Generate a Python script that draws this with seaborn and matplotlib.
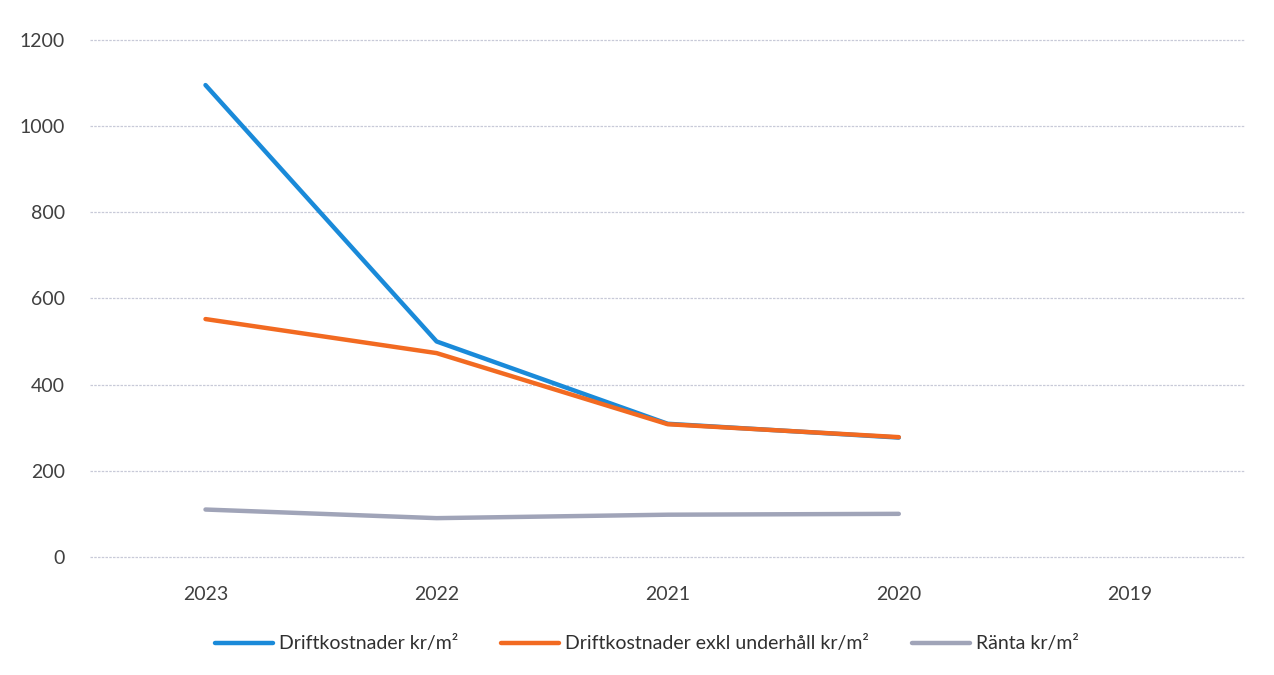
import matplotlib.pyplot as plt
import seaborn as sns
import pandas as pd
import numpy as np

years = ["2023", "2022", "2021", "2020", "2019"]
drift = [1095, 500, 309, 277, np.nan]
drift_exkl = [552, 473, 308, 278, np.nan]
ranta = [110, 90, 98, 100, np.nan]

series_names = [
    "Driftkostnader kr/m²",
    "Driftkostnader exkl underhåll kr/m²",
    "Ränta kr/m²",
]
colors = ["#1a8ad9", "#f26a21", "#a0a4b8"]

rows = []
for name, vals in zip(series_names, [drift, drift_exkl, ranta]):
    for i, v in enumerate(vals):
        rows.append({"pos": i, "value": v, "serie": name})
df = pd.DataFrame(rows).dropna()

sns.set_style("white")
plt.rcParams["font.family"] = ["Lato", "DejaVu Sans"]

fig = plt.figure(figsize=(12.74, 6.75), dpi=100)
ax = fig.add_axes([0.0706, 0.173, 0.907, 0.768])

sns.lineplot(
    data=df, x="pos", y="value", hue="serie", hue_order=series_names,
    palette=colors, linewidth=3.2, sort=False, ax=ax,
)

ax.set_xlim(-0.5, len(years) - 0.5)
ax.set_ylim(-3, 1200)
ax.set_yticks(range(0, 1201, 200))
ax.set_xticks(range(len(years)))
ax.set_xticklabels(years)
ax.set_xlabel("")
ax.set_ylabel("")
ax.grid(axis="y", color="#c8cad8", linestyle=(0, (2, 1)), linewidth=0.9)
for gl in ax.get_ygridlines():
    gl.set_clip_on(False)
ax.set_axisbelow(True)
for s in ax.spines.values():
    s.set_visible(False)
ax.tick_params(axis="both", length=0, labelsize=14, colors="#404040")
ax.tick_params(axis="y", pad=18)
ax.tick_params(axis="x", pad=20)

handles, labels = ax.get_legend_handles_labels()
ax.legend(
    handles, labels, loc="upper center", bbox_to_anchor=(0.482, -0.115),
    ncol=3, frameon=False, fontsize=14, handlelength=3.0,
    columnspacing=2.2, handletextpad=0.3, labelcolor="#303030",
)

fig.savefig("out.png", dpi=100)
